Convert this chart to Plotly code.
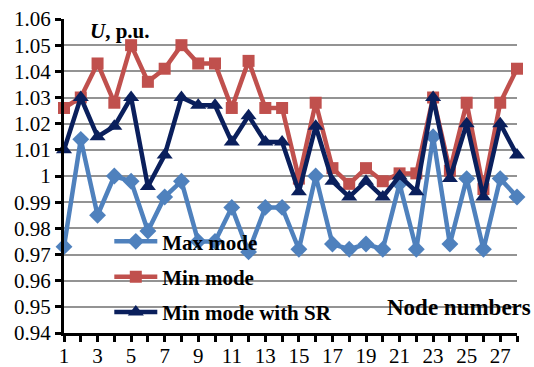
import plotly.graph_objects as go

# Bus voltages (p.u.) for each node under three operating modes
nodes = list(range(1, 29))
max_mode = [0.973, 1.014, 0.985, 1.000, 0.998, 0.979, 0.992, 0.998, 0.975, 0.975,
            0.988, 0.971, 0.988, 0.988, 0.972, 1.000, 0.974, 0.972, 0.974, 0.972,
            0.997, 0.972, 1.015, 0.974, 0.999, 0.972, 0.999, 0.992]
min_mode = [1.026, 1.030, 1.043, 1.028, 1.050, 1.036, 1.041, 1.050, 1.043, 1.043,
            1.026, 1.044, 1.026, 1.026, 0.999, 1.028, 1.003, 0.997, 1.003, 0.998,
            1.001, 1.001, 1.030, 1.002, 1.028, 0.995, 1.028, 1.041]
min_mode_sr = [1.010, 1.030, 1.015, 1.019, 1.030, 0.996, 1.008, 1.030, 1.027, 1.027,
               1.013, 1.023, 1.013, 1.013, 0.994, 1.019, 0.998, 0.992, 0.998, 0.992,
               1.000, 0.994, 1.030, 0.999, 1.020, 0.992, 1.020, 1.008]

y_ticks = [0.94, 0.95, 0.96, 0.97, 0.98, 0.99, 1.00, 1.01, 1.02, 1.03, 1.04, 1.05, 1.06]
y_tick_text = ["0.94", "0.95", "0.96", "0.97", "0.98", "0.99", "1",
               "1.01", "1.02", "1.03", "1.04", "1.05", "1.06"]
x_tick_text = [str(n) if n % 2 == 1 else "" for n in nodes]

FONT = "Liberation Serif, Times New Roman, serif"

series = [
    ("Max mode", max_mode, "#4F81BD", "diamond", 13),
    ("Min mode", min_mode, "#C0504D", "square", 12),
    ("Min mode with SR", min_mode_sr, "#0A1F5C", "triangle-up", 14),
]

fig = go.Figure()
for i, (name, vals, color, symbol, size) in enumerate(series):
    fig.add_trace(go.Scatter(
        x=nodes, y=vals, name=name, mode="lines+markers",
        line=dict(color=color, width=4.5),
        marker=dict(symbol=symbol, size=size, color=color),
        cliponaxis=False, legendgroup=f"g{i}",
    ))

fig.update_layout(
    width=534, height=367,
    margin=dict(l=64, r=17, t=19, b=34, autoexpand=False),
    paper_bgcolor="white", plot_bgcolor="white",
    font=dict(family=FONT, size=21, color="black"),
    showlegend=True,
    legend=dict(
        x=0.1, y=0.356, xanchor="left", yanchor="top",
        bgcolor="rgba(0,0,0,0)", borderwidth=0,
        font=dict(family=FONT, size=21, color="black", weight="bold"),
        tracegroupgap=5, itemwidth=43,
    ),
    xaxis=dict(
        range=[1, 28], tickmode="array", tickvals=nodes, ticktext=x_tick_text,
        showgrid=False, zeroline=False,
        showline=True, linecolor="black", linewidth=3,
        ticks="outside", ticklen=6, tickwidth=3, tickcolor="black",
        tickfont=dict(family=FONT, size=21), ticklabelstandoff=-4,
    ),
    yaxis=dict(
        range=[0.94, 1.06], tickmode="array", tickvals=y_ticks, ticktext=y_tick_text,
        showgrid=True, gridcolor="#939393", gridwidth=2, zeroline=False,
        showline=True, linecolor="black", linewidth=3,
        ticks="outside", ticklen=6, tickwidth=3, tickcolor="black",
        tickfont=dict(family=FONT, size=21),
    ),
    annotations=[
        dict(text="<b><i>U</i>, p.u.</b>", x=0.052, y=0.962, xref="paper", yref="paper",
             xanchor="left", yanchor="middle", showarrow=False,
             font=dict(family=FONT, size=21, color="black")),
        dict(text="<b>Node numbers</b>", x=1.035, y=0.08, xref="paper", yref="paper",
             xanchor="right", yanchor="middle", showarrow=False,
             font=dict(family=FONT, size=23, color="black")),
    ],
)

fig.write_html("out.html")
